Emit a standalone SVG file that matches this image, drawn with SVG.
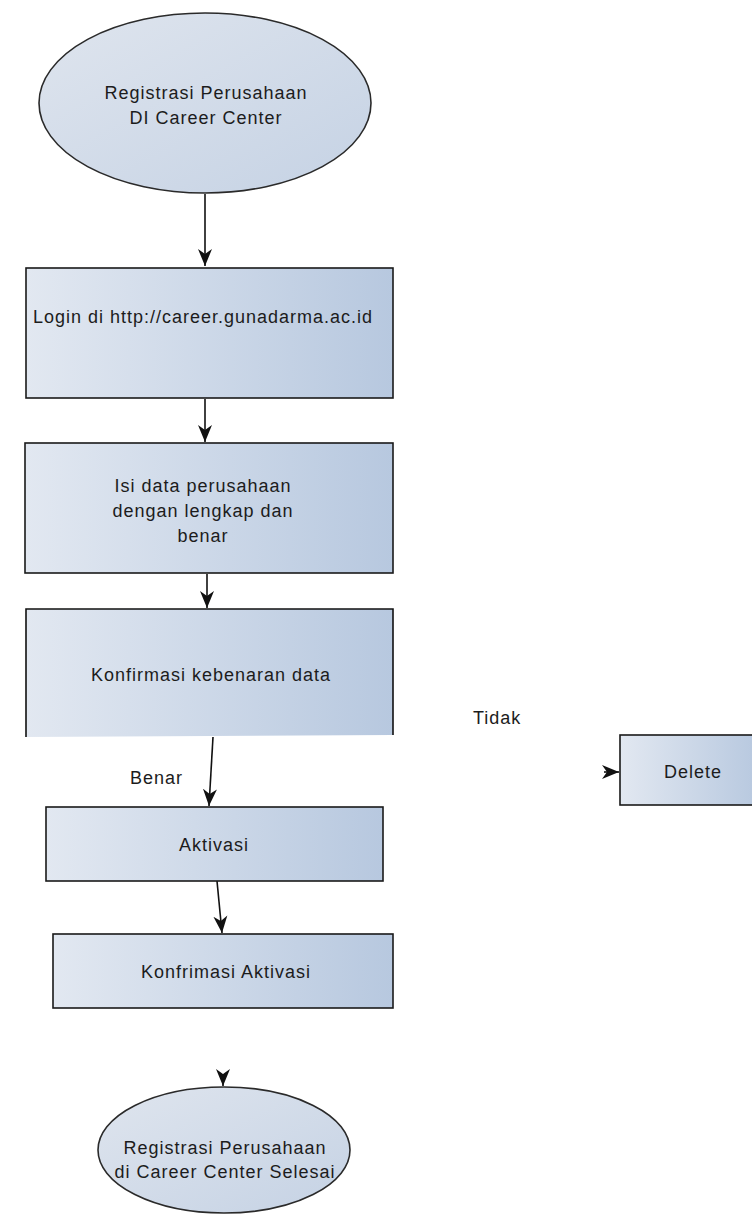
<svg xmlns="http://www.w3.org/2000/svg" width="752" height="1217" viewBox="0 0 752 1217">
<style>
.box{stroke:#1a1a1a;stroke-width:1.6;fill:url(#g)}
.ell{stroke:#2a2a2a;stroke-width:1.6;fill:url(#ge)}
.t{font-family:"Liberation Sans",Arial,sans-serif;font-size:18px;letter-spacing:1px;fill:#1c1c1c;text-anchor:middle}
.l{font-family:"Liberation Sans",Arial,sans-serif;font-size:18px;letter-spacing:1px;fill:#1c1c1c}
.c{stroke:#111;stroke-width:1.6;fill:none}
</style>
<defs>
<linearGradient id="g" x1="0" y1="0" x2="1" y2="0">
<stop offset="0" stop-color="#e2e8f1"/>
<stop offset="1" stop-color="#b7c8df"/>
</linearGradient>
<linearGradient id="ge" x1="0" y1="0" x2="1" y2="1">
<stop offset="0" stop-color="#dfe5ee"/>
<stop offset="1" stop-color="#c5d2e4"/>
</linearGradient>
<marker id="a" markerUnits="userSpaceOnUse" markerWidth="18" markerHeight="16" refX="17" refY="8" orient="auto">
<path d="M0,1 L17,8 L0,15 L5,8 z" fill="#111"/>
</marker>
</defs>
<rect width="752" height="1217" fill="#fff"/>
<g id="connectors">
<path class="c" d="M205,194 L205,266" marker-end="url(#a)"/>
<path class="c" d="M205,399 L205,442" marker-end="url(#a)"/>
<path class="c" d="M207,574 L207,608" marker-end="url(#a)"/>
<path class="c" d="M213,737 Q211,770 209,806" marker-end="url(#a)"/>
<path class="c" d="M217,881 L222,933" marker-end="url(#a)"/>
<path class="c" d="M223,1076 L223,1086" marker-end="url(#a)"/>
<path class="c" d="M604,772 L619,772" marker-end="url(#a)"/>
</g>
<g id="start">
<ellipse class="ell" cx="205" cy="103" rx="166" ry="90"/>
<text class="t" x="206" y="99">Registrasi Perusahaan</text>
<text class="t" x="206" y="124">DI Career Center</text>
</g>
<g id="login">
<rect class="box" x="26" y="268" width="367" height="130"/>
<text class="t" x="203" y="323">Login di http://career.gunadarma.ac.id</text>
</g>
<g id="isi">
<rect class="box" x="25" y="443" width="368" height="130"/>
<text class="t" x="203" y="492">Isi data perusahaan</text>
<text class="t" x="203" y="517">dengan lengkap dan</text>
<text class="t" x="203" y="542">benar</text>
</g>
<g id="konfirmasi-data">
<path d="M26,737 L26,609 L393,609 L393,735 Z" fill="url(#g)"/>
<path class="c" d="M26,737 L26,609 L393,609 L393,735"/>
<text class="t" x="211" y="681">Konfirmasi kebenaran data</text>
</g>
<g id="labels">
<text class="l" x="130" y="784">Benar</text>
<text class="l" x="473" y="724">Tidak</text>
</g>
<g id="delete">
<rect class="box" x="620" y="735" width="140" height="70"/>
<text class="t" x="693" y="778">Delete</text>
</g>
<g id="aktivasi">
<rect class="box" x="46" y="807" width="337" height="74"/>
<text class="t" x="214" y="851">Aktivasi</text>
</g>
<g id="konfirmasi-aktivasi">
<rect class="box" x="53" y="934" width="340" height="74"/>
<text class="t" x="226" y="978">Konfrimasi Aktivasi</text>
</g>
<g id="end">
<ellipse class="ell" cx="224" cy="1150" rx="126" ry="63"/>
<text class="t" x="225" y="1154">Registrasi Perusahaan</text>
<text class="t" x="225" y="1178">di Career Center Selesai</text>
</g>
</svg>
